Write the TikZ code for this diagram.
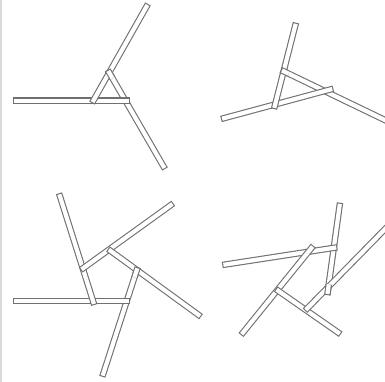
\documentclass[tikz,border=0pt]{standalone}
\usepackage{tikz}
\definecolor{stickgray}{HTML}{707070}
\definecolor{framegray}{HTML}{DADADA}
\begin{document}
\begin{tikzpicture}[
  x=1pt, y=-1pt,
  stick/.style={draw=stickgray, line width=6.4pt,
                postaction={draw=white, line width=4.2pt,
                            shorten >=1.1pt, shorten <=1.1pt}},
  frame/.style={draw=framegray, line width=2pt}
]
  \useasboundingbox (0,0) rectangle (385,382);
  \fill[white] (0,0) rectangle (385,382);
  \draw[frame] (1,0) -- (1,382);

  %% Top left
  \draw[stick] (107.7,70) -- (165,169);
  \draw[stick] (13.3,100.7) -- (130,100.7);
  \draw[stick] (148,4) -- (92,103);
  \begin{scope}
    \clip (108,72) circle (8);
    \draw[stick] (107.7,70) -- (165,169);
  \end{scope}

  %% Top right
  \draw[stick] (281,70) -- (390,122.5);
  \draw[stick] (221,119) -- (333.3,88.7);
  \draw[stick] (296,22.7) -- (274,109);
  \begin{scope}
    \clip (281,72) circle (8);
    \draw[stick] (281,70) -- (390,122.5);
  \end{scope}

  %% Bottom left
  \draw[stick] (137.7,267.3) -- (102.3,376.7);
  \draw[stick] (13.3,301) -- (130,301);
  \draw[stick] (59,193.3) -- (94.3,305);
  \draw[stick] (173.3,203.3) -- (80.7,270);
  \draw[stick] (108,249) -- (201,316.7);
  \begin{scope}
    \clip (137,270) circle (8);
    \draw[stick] (137.7,267.3) -- (102.3,376.7);
  \end{scope}

  %% Bottom right
  \draw[stick] (340,202.7) -- (327.3,295);
  \draw[stick] (222.3,265) -- (337.3,247.3);
  \draw[stick] (313.3,245.7) -- (241,335);
  \draw[stick] (275.7,289) -- (340.7,334.3);
  \draw[stick] (305,310.7) -- (390,224);
  \begin{scope}
    \clip (328,292) circle (8);
    \draw[stick] (340,202.7) -- (327.3,295);
  \end{scope}
\end{tikzpicture}
\end{document}
